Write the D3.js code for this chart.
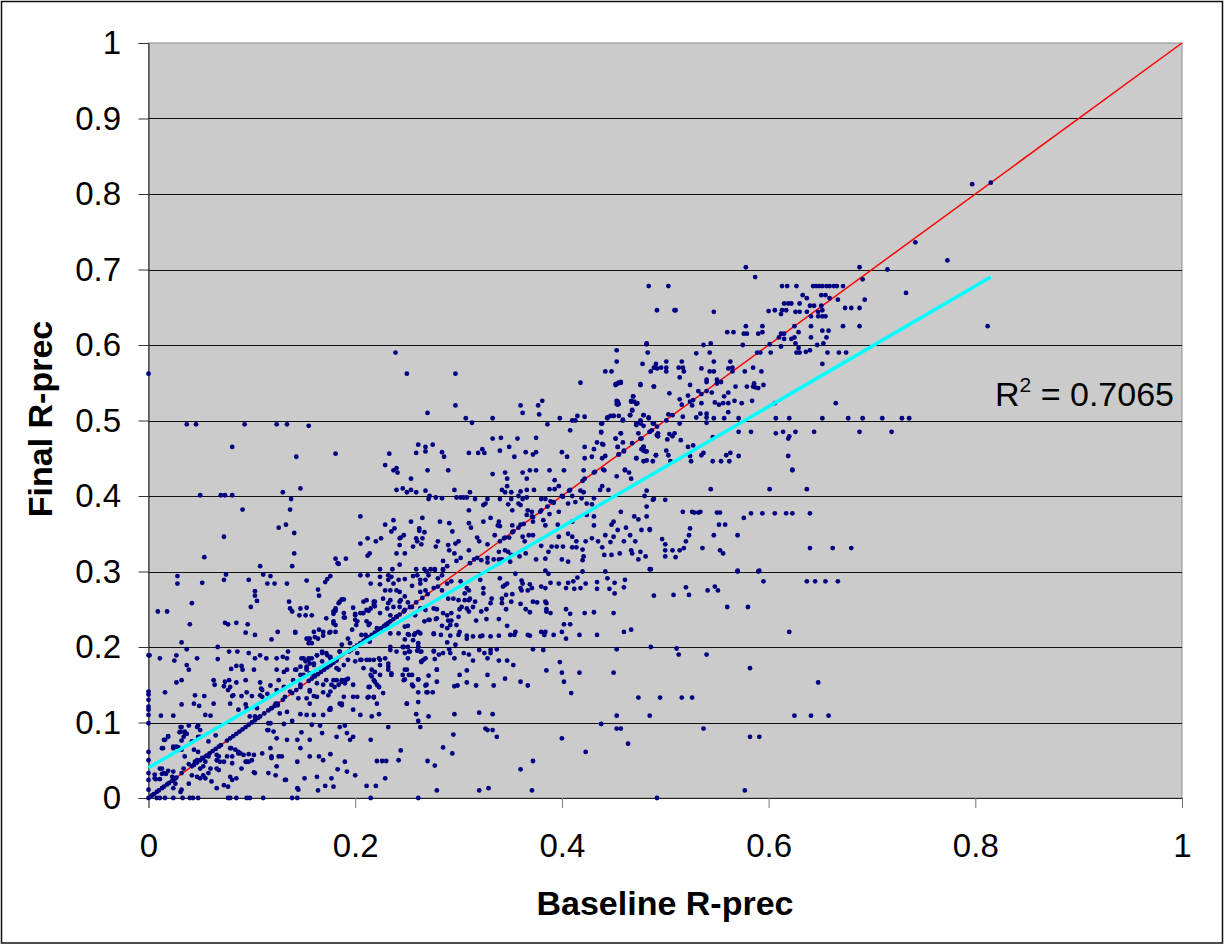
<!DOCTYPE html>
<html>
<head>
<meta charset="utf-8">
<script src="https://d3js.org/d3.v7.min.js"></script>
<style>
body { margin: 0; background: #fff; }
text { font-family: "Liberation Sans", Arial, sans-serif; fill: #000; }
</style>
</head>
<body>
<div id="chart-area"></div>
<script>
// all point values below are in thousandths of R-prec
var xTicks = [0, 0.2, 0.4, 0.6, 0.8, 1];
var yTicks = [0, 0.1, 0.2, 0.3, 0.4, 0.5, 0.6, 0.7, 0.8, 0.9, 1];

var equalLine = [[0, 0], [1, 1]];
var trendLine = [[0, 0.04], [0.815, 0.69]];

// baseline and final the same
var onDiagonal = [3,5,8,10,13,15,18,20,23,25,27,42,44,47,50,53,56,59,62,65,68,70,76,79,82,85,88,91,94,97,100,103,106,108,112,116,119,122,125,130,143,147,155,158,161,164,167,170,173,176,179,182,196,199,202,205,208,210,213,216,219,222,225,228,230,232,234,237,240,243,247,253,259,265,270,280,311,318,340,345,352,358,363,372,379,386,392,400,407,420,432,487,601];
// baseline 0
var baselineZero = [0,11,24,33,50,61,99,110,117,121,130,137,141,189,562];
// final 0
var finalZero = [8,11,16,24,33,40,43,48,77,79,85,95,98,111,139,144,215,261,492];

var lowLeft = [[31,94],[39,96],[48,96],[30,87],[35,86],[50,90],[19,82],[15,77],[13,66],[24,68],[29,67],[32,64],[50,81],[65,83],[58,75],[44,64],[48,61],[35,55],[39,45],[45,48],[52,53],[55,48],[69,48],[68,55],[79,66],[81,55],[87,61],[97,58],[100,50],[95,48],[110,59],[118,66],[124,79],[116,90],[118,99],[131,98],[139,102],[148,87],[158,97],[166,96],[134,77],[144,77],[147,66],[156,77],[168,86],[185,94],[190,96],[182,81],[192,86],[198,81],[195,77],[215,77],[232,94],[126,55],[119,55],[129,55],[124,42],[116,33],[144,48],[156,55],[165,55],[169,50],[176,58],[190,48],[183,38],[192,35],[200,30],[229,26],[221,49],[226,49],[230,49],[242,50],[133,24],[151,26],[163,28],[177,26],[164,10],[171,16],[179,15],[145,11],[211,16],[220,16],[102,34],[85,26],[79,28],[73,17],[66,13],[61,22],[58,33],[50,26],[32,11],[24,13],[11,39],[15,33],[6,26],[23,28],[44,44],[53,42],[66,39],[81,46],[89,59]];

// crowded patch close to the origin
var nearOrigin = [[13,39],[6,31],[13,32],[17,32],[11,25],[7,25],[19,36],[24,35],[26,26],[34,39],[32,33],[26,19],[31,8],[39,19],[42,30],[47,28],[53,30],[55,26],[77,15],[81,24],[90,39],[97,48],[94,48],[66,50],[73,48],[76,55],[84,64],[87,59],[92,57],[102,57],[50,39],[60,39],[68,37],[58,55],[47,50],[66,57],[80,66],[119,53],[103,33],[123,30],[132,24],[144,13],[31,88],[35,88],[32,94],[37,85],[34,81],[19,81],[16,77],[32,76],[47,94],[48,81],[42,75],[24,66],[27,68],[14,66],[77,143],[82,136],[110,143],[110,134],[118,149],[124,143],[131,147],[132,134],[123,125],[127,112],[116,99],[115,90],[121,88],[87,117]];

// crowded patch around 0.2 / 0.2
var nearMiddle = [[187,263],[184,258],[181,248],[179,244],[190,239],[179,234],[200,236],[201,229],[208,245],[218,260],[219,254],[213,248],[207,245],[200,244],[231,251],[234,262],[243,260],[255,253],[248,249],[240,240],[231,227],[221,225],[214,231],[210,216],[206,216],[175,219],[142,219],[164,211],[156,211],[153,211],[155,205],[158,205],[193,211],[187,203],[195,205],[214,207],[234,218],[242,218],[252,216],[258,218],[276,218],[261,220],[248,227],[271,236],[279,238],[168,194],[172,192],[176,187],[163,189],[155,185],[148,185],[152,181],[156,178],[160,176],[168,181],[176,176],[143,170],[153,174],[147,163],[153,170],[156,165],[160,163],[185,194],[193,183],[200,181],[206,183],[214,183],[223,185],[232,178],[208,172],[216,170],[189,176],[184,170],[224,176],[219,167],[232,170],[235,163],[224,163],[216,161],[219,154],[223,147],[213,147],[248,170],[252,163],[247,156],[261,157],[269,150],[255,150],[268,185],[264,181],[279,170],[234,196],[240,194],[247,200],[252,194],[261,200],[263,194],[276,195],[234,200],[179,156],[172,156],[187,156],[190,156],[193,158],[184,150],[190,152],[177,150],[163,152],[169,150],[156,143],[163,134],[174,136],[189,134],[213,134],[218,134],[156,125],[176,119],[187,125],[198,117],[221,125],[250,125],[269,140],[261,140],[139,139],[145,132],[153,132]];

var midLow = [[1,189],[11,185],[25,182],[27,189],[37,197],[67,200],[37,176],[39,170],[47,185],[67,184],[78,194],[86,194],[97,192],[80,171],[85,175],[90,175],[91,170],[103,185],[102,170],[108,189],[114,185],[124,185],[130,187],[134,185],[135,194],[124,170],[131,167],[134,170],[142,170],[147,174],[150,185],[155,183],[158,185],[163,189],[168,192],[173,189],[176,185],[185,194],[194,194],[153,172],[160,178],[172,174],[182,172],[126,156],[140,156],[150,163],[27,153],[32,156],[63,156],[64,150],[74,154],[78,156],[73,148],[79,147],[85,153],[94,156],[108,153],[109,145],[81,135],[90,135],[95,140],[100,135],[108,136],[115,138],[45,136],[54,135],[16,140],[32,124],[44,125],[49,122],[63,125],[79,125],[94,124],[95,119],[105,119],[12,109],[24,109],[55,110],[60,109],[98,108],[103,108],[119,119],[125,123],[134,114],[147,111],[153,110],[160,110],[169,110],[175,117],[137,141],[147,150],[156,141],[160,135],[169,140],[176,141],[180,147],[182,156],[187,154],[192,157],[198,150],[185,125],[198,134],[202,134],[205,110],[216,108],[223,111],[215,163],[218,156],[221,150],[223,147],[214,147],[227,139],[212,133],[218,133],[229,185],[232,174],[235,165],[224,183],[211,183],[218,183],[202,192],[205,183],[176,117],[187,123]];

var midHigh = [[108,307],[139,307],[184,310],[28,294],[28,284],[52,285],[73,289],[75,296],[97,289],[111,296],[118,294],[115,284],[122,284],[134,284],[153,288],[164,276],[171,286],[173,290],[176,294],[165,268],[205,295],[212,295],[224,293],[215,284],[224,283],[232,295],[235,293],[232,289],[237,284],[242,289],[103,274],[103,268],[105,261],[99,253],[42,258],[9,247],[18,247],[40,230],[74,232],[77,230],[85,232],[96,230],[94,219],[103,216],[119,210],[125,220],[142,220],[136,260],[137,251],[139,247],[147,251],[153,252],[146,242],[152,242],[158,242],[172,238],[179,247],[181,251],[185,260],[189,263],[189,245],[189,239],[198,252],[200,242],[208,260],[211,262],[202,234],[205,245],[211,249],[215,251],[211,234],[213,229],[219,260],[218,256],[227,264],[229,275],[234,275],[240,275],[232,258],[237,253],[244,262],[234,242],[240,240],[224,245],[179,231],[160,220],[165,223],[169,220],[176,220],[181,220],[197,223],[155,211],[161,213],[169,215],[181,229],[32,206]];

var upperLeft = [[239,590],[37,495],[46,495],[93,495],[124,495],[134,495],[155,493],[81,465],[143,452],[181,456],[233,456],[229,441],[237,434],[240,437],[241,431],[50,401],[70,401],[74,401],[81,401],[130,405],[147,410],[240,408],[138,396],[91,382],[137,382],[205,373],[237,368],[126,358],[133,362],[141,351],[229,362],[238,357],[235,353],[73,346],[205,337],[212,344],[220,340],[225,344],[243,344],[243,335],[54,319],[141,324],[240,324],[214,324],[212,321],[181,317],[183,311],[191,317],[224,303],[236,303],[243,309]];

var center = [[250,562],[297,562],[482,601],[442,565],[448,565],[418,550],[452,548],[455,550],[457,550],[476,548],[489,545],[469,532],[467,525],[470,525],[473,523],[454,525],[453,522],[455,522],[297,520],[360,520],[381,526],[377,520],[362,510],[378,508],[270,510],[307,503],[313,497],[333,503],[386,495],[398,503],[410,500],[413,500],[415,506],[422,505],[438,496],[444,503],[447,506],[450,506],[455,506],[459,500],[466,507],[468,513],[479,507],[484,503],[476,500],[472,496],[476,496],[489,496],[408,487],[438,484],[457,483],[452,476],[493,483],[485,485],[492,481],[333,476],[341,477],[357,476],[375,477],[434,471],[439,469],[422,465],[454,465],[468,470],[476,476],[261,468],[268,465],[275,468],[259,457],[268,459],[284,458],[286,452],[310,457],[319,457],[323,462],[325,457],[340,460],[349,465],[354,452],[365,458],[372,455],[375,458],[400,458],[405,452],[422,450],[429,452],[439,450],[431,462],[455,455],[460,460],[472,450],[479,465],[479,460],[481,459],[491,454],[482,447],[270,434],[290,434],[333,429],[345,431],[347,423],[362,431],[369,434],[375,434],[366,423],[388,434],[402,434],[421,434],[431,431],[441,434],[453,426],[461,434],[465,431],[422,423],[467,423],[393,421],[254,423],[246,410],[254,408],[250,405],[259,405],[268,407],[296,408],[311,405],[342,408],[347,413],[345,405],[351,405],[360,406],[366,408],[373,408],[388,409],[393,409],[397,413],[408,408],[418,407],[421,405],[439,413],[437,408],[445,408],[482,407],[480,400],[271,396],[272,400],[278,398],[284,397],[298,398],[302,398],[305,398],[308,398],[316,396],[328,396],[340,396],[351,396],[358,400],[362,396],[366,398],[380,396],[384,396],[389,393],[392,391],[401,399],[406,390],[413,392],[410,400],[419,397],[424,390],[429,389],[431,397],[489,396],[324,388],[326,390],[348,389],[358,390],[360,388],[310,381],[352,381],[367,381],[371,379],[380,381],[388,376],[397,379],[457,379],[482,386],[482,373],[470,373],[474,369],[254,366],[265,371],[282,366],[291,364],[310,364],[312,358],[324,366],[331,371],[339,366],[340,360],[338,361],[352,361],[360,362],[366,375],[371,373],[372,366],[382,368],[384,361],[396,362],[410,366],[424,375],[431,373],[431,361],[450,366],[448,362],[462,358],[477,355],[485,356],[454,355],[247,348],[244,345],[259,344],[262,357],[262,354],[267,352],[265,344],[260,340],[264,336],[256,333],[248,324],[280,340],[278,333],[290,335],[294,353],[297,337],[300,340],[291,328],[296,324],[310,328],[285,314],[289,307],[318,345],[320,340],[328,336],[335,348],[344,344],[349,345],[353,353],[362,346],[364,340],[368,348],[372,348],[339,326],[345,328],[348,326],[351,322],[328,318],[334,316],[339,316],[342,316],[328,312],[302,318],[298,314],[315,316],[322,315],[350,313],[359,320],[365,324],[375,316],[384,317],[380,334],[390,333],[387,326],[395,333],[401,333],[397,346],[406,350],[410,346],[414,340],[423,340],[429,344],[435,340],[442,348],[450,346],[460,340],[471,340],[466,348],[410,332],[414,332],[420,329],[421,320],[439,332],[447,339],[441,322],[448,322],[456,324],[467,328],[468,324],[476,326],[481,320],[474,316],[400,316],[406,313],[420,315],[259,303],[267,303],[273,303],[277,303],[285,303]];

var lowCenter = [[248,290],[256,294],[260,295],[263,289],[263,284],[255,281],[268,289],[269,300],[271,295],[277,302],[280,291],[284,295],[285,302],[268,275],[263,273],[243,273],[248,267],[243,253],[251,259],[276,278],[284,275],[289,284],[293,287],[355,297],[340,291],[345,282],[343,280],[347,284],[321,289],[324,278],[308,278],[310,275],[302,287],[306,271],[311,264],[316,260],[324,271],[332,264],[331,258],[290,264],[295,264],[300,262],[306,262],[310,262],[342,264],[346,269],[352,270],[351,260],[342,258],[346,250],[360,257],[372,260],[376,259],[384,260],[385,258],[365,250],[369,246],[385,250],[385,247],[389,245],[361,288],[362,284],[360,278],[361,275],[367,275],[371,278],[369,283],[380,280],[384,278],[389,285],[397,284],[406,285],[411,287],[415,292],[420,300],[423,284],[404,278],[412,277],[418,278],[434,286],[434,277],[442,300],[444,291],[451,285],[446,277],[451,271],[461,289],[460,279],[384,301],[387,297],[489,268],[508,269],[520,279],[523,269],[541,275],[548,280],[551,275],[560,253],[580,253],[570,301],[591,301],[595,287],[485,303],[404,250],[408,244],[422,245],[431,246],[450,245],[402,230],[408,230],[400,220],[404,211],[417,216],[434,216],[460,220],[467,223],[620,220],[380,220],[384,220],[383,216],[392,216],[367,216],[369,215],[350,216],[354,216],[355,220],[347,228],[339,215],[331,214],[323,215],[321,214],[314,214],[308,215],[308,211],[300,216],[301,220],[292,215],[283,216],[276,217],[263,218],[257,216],[251,217],[248,210],[256,209],[261,205],[292,229],[289,225],[298,229],[284,228],[289,242],[293,245],[293,235],[290,235],[285,245],[267,234],[272,236],[278,237],[251,228],[300,240],[310,247],[317,235],[327,237],[339,237],[327,250],[322,247],[314,253],[308,251],[303,253],[301,250],[276,251],[268,249],[279,250],[258,242],[263,251],[246,200],[251,200],[248,192],[253,194],[260,195],[264,194],[261,200],[276,194],[281,190],[285,192],[291,197],[292,192],[297,203],[289,206],[305,192],[310,190],[320,196],[325,192],[331,196],[331,192],[337,197],[372,197],[382,196],[453,197],[486,200],[511,198],[513,190],[540,190],[251,185],[266,183],[264,180],[277,184],[296,185],[314,182],[328,185],[339,182],[347,182],[353,176],[398,180],[279,170],[250,170],[308,169],[328,163],[301,163],[385,169],[400,166],[417,166],[450,166],[582,172],[246,163],[255,163],[248,157],[261,157],[271,162],[279,154],[308,153],[345,158],[360,154],[367,149],[402,154],[317,149],[334,149],[296,148],[299,149],[256,148],[268,149],[270,140],[275,140],[409,139],[250,125],[261,127],[474,133],[495,133],[516,133],[526,133],[259,111],[271,108],[296,111],[320,113],[333,111],[453,109],[485,109],[625,109],[438,98],[261,102],[263,94],[453,92],[457,92],[537,92],[326,92],[328,90],[333,90],[295,84],[337,81],[400,79],[582,81],[591,81],[464,72],[285,67],[244,63],[294,59],[423,61],[270,49],[277,43],[372,49],[360,38],[279,10],[320,10],[329,13],[371,10],[577,10]];

var rightMid = [[623,434],[544,409],[601,409],[637,409],[488,395],[500,395],[517,379],[526,379],[528,378],[532,378],[534,379],[550,378],[553,378],[583,377],[594,377],[606,377],[617,377],[623,377],[640,377],[576,371],[552,362],[558,362],[524,357],[523,348],[547,348],[570,348],[485,355],[497,343],[520,340],[500,336],[536,331],[553,328],[556,324],[500,328],[507,328],[514,328],[518,331],[500,320],[510,319],[640,331],[662,331],[680,331],[570,300],[590,300],[486,303],[637,287],[645,287],[655,287],[667,287],[648,153],[641,109],[658,109]];

var upperRight = [[797,813],[815,815],[742,736],[773,712],[578,703],[688,703],[715,700],[587,690],[691,687],[733,669],[812,625],[484,678],[503,678],[613,678],[618,678],[627,678],[643,678],[646,678],[649,678],[652,678],[656,678],[659,678],[663,678],[666,678],[672,678],[633,666],[637,662],[651,666],[655,666],[659,662],[667,660],[693,660],[615,655],[619,655],[622,655],[630,655],[640,652],[644,652],[651,652],[674,649],[680,649],[688,649],[492,646],[509,646],[510,646],[547,644],[600,645],[606,646],[613,646],[617,646],[612,641],[626,644],[630,644],[637,644],[648,644],[652,646],[641,638],[648,638],[652,638],[655,638],[578,625],[594,625],[625,625],[641,625],[672,625],[688,625],[560,617],[566,617],[576,615],[579,615],[590,615],[594,617],[612,615],[615,615],[629,617],[652,619],[658,619],[610,610],[615,608],[622,608],[625,610],[641,610],[656,610],[653,602],[647,600],[626,602],[575,600],[612,598],[629,596],[640,593],[636,591],[627,590],[630,590],[657,590],[668,590],[675,590],[652,575],[602,590],[592,590],[589,590],[482,602],[537,600],[544,602],[453,593],[483,590],[530,589],[543,590],[453,578],[478,575],[491,575],[489,570],[492,569],[496,570],[501,578],[501,570],[501,565],[486,565],[513,570],[516,578],[517,570],[518,565],[514,557],[547,578],[535,569],[543,565],[547,565],[563,578],[561,569],[565,570],[565,565],[577,565],[585,570],[593,565],[454,549],[452,547],[457,551],[476,547],[489,545],[504,536],[524,547],[540,554],[540,551],[550,554],[550,549],[554,551],[532,539],[535,535],[540,539],[522,533],[545,537],[568,545],[561,537],[557,532],[579,545],[586,549],[585,545],[587,544],[590,543],[595,547],[514,528],[469,532],[467,526],[472,522],[453,526],[454,521],[516,521],[524,525],[527,527],[526,520],[535,523],[548,524],[552,521],[556,523],[561,523],[567,526],[574,523],[584,526],[606,523],[665,523],[561,511],[540,509],[534,509],[503,508],[507,507],[517,505],[530,504],[540,504],[547,503],[557,503],[571,503],[607,503],[620,503],[652,503],[677,503],[691,503],[710,503],[729,503],[736,503],[540,497],[514,496],[501,500],[484,504],[479,507],[466,507],[468,514],[450,506],[444,504],[459,501],[439,496],[472,494],[476,498],[479,493],[488,496],[492,492],[571,485],[583,485],[607,483],[614,485],[626,485],[644,485],[688,485],[719,485],[620,479],[619,476],[546,478],[509,483],[504,482],[507,479],[515,474],[502,475],[492,480],[493,479],[485,485],[474,483],[457,483],[452,476],[438,485],[459,471],[440,468],[454,465],[477,476],[479,465],[477,462],[482,459],[501,460],[522,465],[527,467],[460,459],[455,455],[491,454],[503,454],[535,454],[537,457],[524,453],[559,454],[563,457],[571,453],[619,453],[442,453],[472,450],[479,446],[488,446],[505,446],[525,446],[546,446],[554,446],[562,446],[461,435],[623,435],[440,435]];

var points = [].concat(
	onDiagonal.map(d => [d, d]),
	baselineZero.map(d => [0, d]),
	finalZero.map(d => [d, 0]),
	lowLeft, nearOrigin, nearMiddle, midLow, midHigh, upperLeft, center, lowCenter, rightMid, upperRight
);

var margins = { top: 43, left: 148.5, right: 43, bottom: 147 };
var width = 1225 - margins.left - margins.right;
var height = 945 - margins.top - margins.bottom;

var svg = d3.select("#chart-area")
	.append("svg")
		.attr("width", 1225)
		.attr("height", 945)
		.style("display", "block");

// outer frame
svg.append("rect")
	.attr("x", 1.5)
	.attr("y", 1.5)
	.attr("width", 1221)
	.attr("height", 941.5)
	.attr("fill", "#fff")
	.attr("stroke", "#111")
	.attr("stroke-width", 1.5);

var g = svg.append("g")
	.attr("transform", `translate(${margins.left}, ${margins.top})`);

var x = d3.scaleLinear().domain([0, 1]).range([0, width]);
var y = d3.scaleLinear().domain([0, 1]).range([height, 0]);

g.append("rect")
	.attr("width", width)
	.attr("height", height)
	.attr("fill", "#cbcbcb")
	.attr("stroke", "#8c8c8c")
	.attr("stroke-width", 1);

// Gridlines
g.append("g")
	.selectAll("line")
	.data(yTicks.slice(1, -1))
	.enter().append("line")
		.attr("x1", 0)
		.attr("x2", width)
		.attr("y1", d => Math.round(y(d)) + 0.5)
		.attr("y2", d => Math.round(y(d)) + 0.5)
		.attr("stroke", "#111")
		.attr("stroke-width", 1);

var xAxisCall = d3.axisBottom(x)
	.tickValues(xTicks)
	.tickSize(10)
	.tickPadding(26)
	.tickFormat(d => d);
var xAxisGroup = g.append("g")
	.attr("transform", "translate(0, " + height + ")")
	.call(xAxisCall);

var yAxisCall = d3.axisLeft(y)
	.tickValues(yTicks)
	.tickSize(10)
	.tickPadding(17.5)
	.tickFormat(d => d);
var yAxisGroup = g.append("g")
	.call(yAxisCall);

[xAxisGroup, yAxisGroup].forEach(a => {
	a.selectAll("text")
		.attr("font-size", "33px")
		.attr("font-family", '"Liberation Sans", Arial, sans-serif')
		.attr("fill", "#000");
	a.selectAll("line").attr("stroke", "#333");
	a.select(".domain").attr("stroke", "#222");
});
xAxisGroup.selectAll(".tick line").attr("stroke", "#777");

var line = d3.line().x(d => x(d[0])).y(d => y(d[1]));

g.append("path")
	.attr("d", line(equalLine))
	.attr("fill", "none")
	.attr("stroke", "#ff0000")
	.attr("stroke-width", 1.5);

g.selectAll("circle")
	.data(points)
	.enter().append("circle")
		.attr("cx", d => x(d[0] / 1000))
		.attr("cy", d => y(d[1] / 1000))
		.attr("r", 2.4)
		.attr("fill", "#000080");

g.append("path")
	.attr("d", line(trendLine))
	.attr("fill", "none")
	.attr("stroke", "#00ffff")
	.attr("stroke-width", 3.5);

// Labels
svg.append("text")
	.attr("x", 665)
	.attr("y", 915)
	.attr("font-size", "34px")
	.attr("font-weight", "bold")
	.attr("text-anchor", "middle")
	.text("Baseline R-prec");

svg.append("text")
	.attr("transform", "translate(52, 419) rotate(-90)")
	.attr("font-size", "34px")
	.attr("font-weight", "bold")
	.attr("text-anchor", "middle")
	.text("Final R-prec");

var rLabel = svg.append("text")
	.attr("x", 995)
	.attr("y", 406)
	.attr("font-size", "34px");
rLabel.append("tspan").text("R");
rLabel.append("tspan").attr("dy", -14).attr("font-size", "21px").text("2");
rLabel.append("tspan").attr("dy", 14).text(" = 0.7065");
</script>
</body>
</html>
